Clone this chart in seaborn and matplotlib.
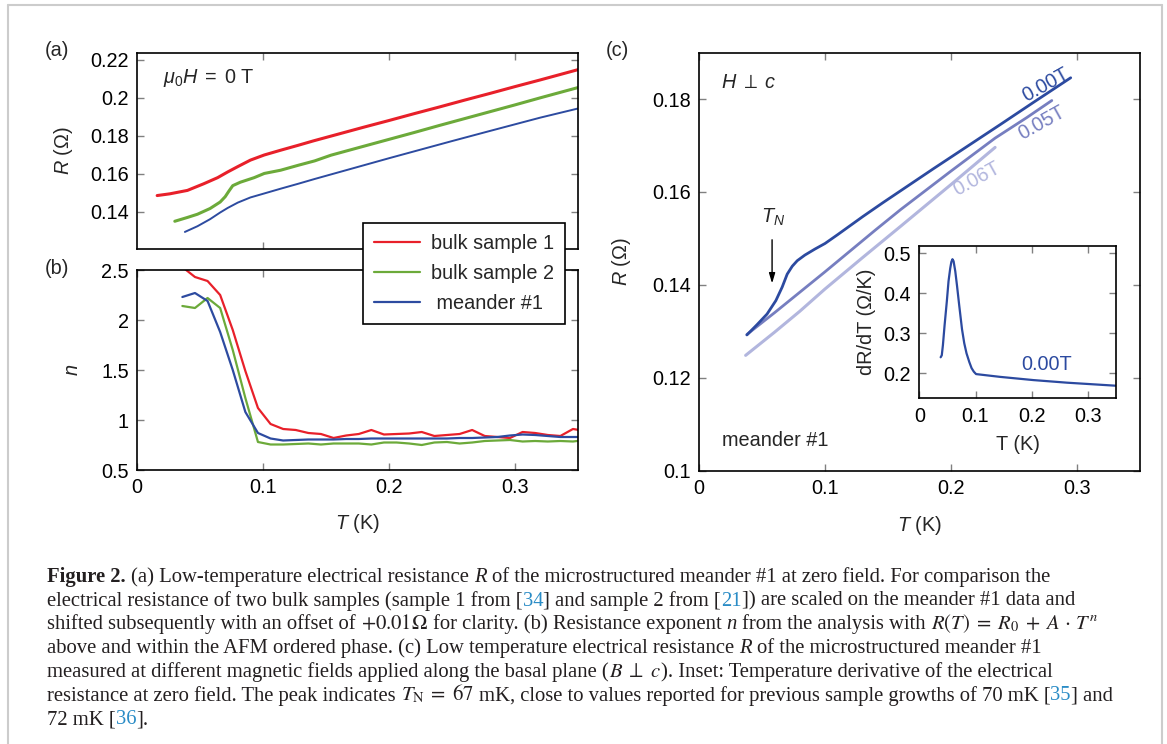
import numpy as np
import pandas as pd
import matplotlib
matplotlib.use("Agg")
import matplotlib.pyplot as plt
import seaborn as sns
from matplotlib.ticker import FuncFormatter, FixedLocator
from matplotlib.lines import Line2D

# ---------------- data ----------------
# (a) resistance at zero field
T_bulk1 = [0.016, 0.026, 0.040, 0.053, 0.064, 0.072, 0.080, 0.090, 0.101, 0.114, 0.128, 0.140,
           0.160, 0.180, 0.200, 0.220, 0.240, 0.260, 0.280, 0.300, 0.320, 0.340, 0.350]
R_bulk1 = [0.1486, 0.1495, 0.1513, 0.1548, 0.1580, 0.1610, 0.1638, 0.1672, 0.1699, 0.1724, 0.1750, 0.1773,
           0.1809, 0.1845, 0.1880, 0.1916, 0.1951, 0.1987, 0.2022, 0.2058, 0.2093, 0.2129, 0.2147]
T_bulk2 = [0.030, 0.040, 0.048, 0.058, 0.066, 0.070, 0.073, 0.076, 0.082, 0.093, 0.101, 0.114, 0.128,
           0.141, 0.154, 0.180, 0.200, 0.220, 0.240, 0.260, 0.280, 0.300, 0.320, 0.340, 0.350]
R_bulk2 = [0.1351, 0.1371, 0.1388, 0.1418, 0.1452, 0.1480, 0.1510, 0.1538, 0.1556, 0.1580, 0.1602, 0.1619, 0.1645,
           0.1668, 0.1698, 0.1745, 0.1781, 0.1817, 0.1854, 0.1890, 0.1926, 0.1962, 0.1999, 0.2035, 0.2053]
T_mean = [0.038, 0.048, 0.058, 0.066, 0.072, 0.080, 0.090, 0.101, 0.114, 0.128, 0.141, 0.154,
          0.180, 0.200, 0.220, 0.250, 0.280, 0.300, 0.320, 0.350]
R_mean = [0.1295, 0.1325, 0.1362, 0.1397, 0.1421, 0.1449, 0.1476, 0.1497, 0.1522, 0.1548, 0.1573, 0.1597,
          0.1645, 0.1682, 0.1718, 0.1772, 0.1825, 0.1860, 0.1895, 0.1943]

# (b) resistance exponent n
T_n = [0.036, 0.046, 0.056, 0.066, 0.076, 0.086, 0.096, 0.106, 0.116, 0.126, 0.136, 0.146, 0.156,
       0.166, 0.176, 0.186, 0.196, 0.206, 0.216, 0.226, 0.236, 0.246, 0.256, 0.266, 0.276, 0.286,
       0.296, 0.306, 0.316, 0.326, 0.336, 0.346, 0.356]
n_bulk1 = [2.53, 2.43, 2.39, 2.25, 1.90, 1.49, 1.12, 0.96, 0.91, 0.90, 0.87, 0.86, 0.82,
           0.845, 0.86, 0.90, 0.855, 0.86, 0.865, 0.88, 0.84, 0.85, 0.86, 0.90, 0.84, 0.83,
           0.82, 0.88, 0.87, 0.85, 0.84, 0.91, 0.89]
n_bulk2 = [2.14, 2.12, 2.22, 2.12, 1.70, 1.22, 0.78, 0.755, 0.755, 0.76, 0.765, 0.755, 0.765,
           0.765, 0.765, 0.755, 0.775, 0.775, 0.765, 0.75, 0.775, 0.78, 0.765, 0.775, 0.79, 0.795,
           0.80, 0.785, 0.79, 0.785, 0.79, 0.785, 0.80]
n_mean = [2.23, 2.27, 2.19, 1.88, 1.50, 1.08, 0.87, 0.815, 0.795, 0.80, 0.805, 0.805, 0.805,
          0.81, 0.81, 0.815, 0.815, 0.815, 0.815, 0.815, 0.815, 0.815, 0.82, 0.82, 0.825, 0.83,
          0.845, 0.855, 0.85, 0.84, 0.83, 0.83, 0.83]

# (c) meander #1 at different fields
T_c00 = [0.038, 0.046, 0.054, 0.061, 0.066, 0.070, 0.074, 0.078, 0.084, 0.092, 0.100, 0.110,
         0.130, 0.146, 0.186, 0.239, 0.266, 0.295]
R_c00 = [0.1292, 0.1314, 0.1337, 0.1366, 0.1395, 0.1423, 0.1440, 0.1452, 0.1464, 0.1477, 0.1489, 0.1508,
         0.1547, 0.1577, 0.1650, 0.1745, 0.1794, 0.1846]
T_c05 = [0.038, 0.060, 0.080, 0.100, 0.120, 0.140, 0.160, 0.200, 0.235, 0.260, 0.280]
R_c05 = [0.1293, 0.1340, 0.1384, 0.1428, 0.1473, 0.1518, 0.1562, 0.1645, 0.1716, 0.1760, 0.1797]
T_c06 = [0.037, 0.060, 0.080, 0.100, 0.130, 0.160, 0.200, 0.235]
R_c06 = [0.1248, 0.1298, 0.1343, 0.1391, 0.1459, 0.1526, 0.1616, 0.1696]

# inset: dR/dT at zero field
T_ins = [0.038, 0.040, 0.042, 0.045, 0.049, 0.052, 0.055, 0.057, 0.059, 0.061, 0.064, 0.067,
         0.071, 0.076, 0.080, 0.084, 0.089, 0.093, 0.097, 0.101, 0.144, 0.203, 0.263, 0.349]
dRdT = [0.240, 0.245, 0.270, 0.320, 0.380, 0.430, 0.462, 0.478, 0.485, 0.480, 0.455, 0.420,
        0.370, 0.310, 0.275, 0.250, 0.228, 0.213, 0.204, 0.198, 0.191, 0.183, 0.1765, 0.169]

series_labels = ["bulk sample 1", "bulk sample 2", " meander #1"]
field_labels = ["0.00T", "0.05T", "0.06T"]

# ---------------- style ----------------
sns.set_style("ticks")
plt.rcParams.update({
    "font.family": ["Liberation Sans", "DejaVu Sans"],
    "mathtext.fontset": "custom",
    "mathtext.rm": "Liberation Sans",
    "mathtext.it": "Liberation Sans:italic",
    "mathtext.bf": "Liberation Sans:bold",
    "mathtext.sf": "Liberation Sans",
    "mathtext.fallback": "stixsans",
    "axes.linewidth": 1.2,
    "axes.edgecolor": "black",
})

RED = "#e8202a"
GREEN = "#6caa3a"
BLUE = "#2d4ba0"
C00 = "#2c4aa0"
C05 = "#767ec0"
C06 = "#b2b6de"
TICKC = "#808080"
FS = 14.3

W, H = 1167, 744
fig = plt.figure(figsize=(W / 100, H / 100), dpi=100)
fig.patch.set_facecolor("white")


def box(l, t, r, b):
    return [l / W, 1 - b / H, (r - l) / W, (b - t) / H]


ax_a = fig.add_axes(box(137, 52.7, 578, 248.5))
ax_b = fig.add_axes(box(137, 270, 578, 470))
ax_c = fig.add_axes(box(699, 52.7, 1140, 470.5))
ax_in = fig.add_axes(box(919.3, 246, 1116, 398.3))

fmt = FuncFormatter(lambda v, p: f"{v:g}")


def style(ax, xt, yt, xlim, ylim, labelbottom=True, size=FS):
    ax.set_xlim(xlim)
    ax.set_ylim(ylim)
    ax.xaxis.set_major_locator(FixedLocator(xt))
    ax.yaxis.set_major_locator(FixedLocator(yt))
    ax.xaxis.set_major_formatter(fmt)
    ax.yaxis.set_major_formatter(fmt)
    ax.tick_params(which="major", direction="in", length=5, width=1, color=TICKC,
                   labelcolor="black", labelsize=size, top=True, right=True, pad=6)
    ax.tick_params(labelbottom=labelbottom)
    for s in ax.spines.values():
        s.set_visible(True)
        s.set_linewidth(1.2)
        s.set_color("black")
    ax.grid(False)
    ax.set_facecolor("white")


# ---- (a)
sns.lineplot(x=T_bulk1, y=R_bulk1, ax=ax_a, color=RED, lw=2.2, sort=False, estimator=None)
sns.lineplot(x=T_bulk2, y=R_bulk2, ax=ax_a, color=GREEN, lw=2.2, sort=False, estimator=None)
sns.lineplot(x=T_mean, y=R_mean, ax=ax_a, color=BLUE, lw=1.4, sort=False, estimator=None)
style(ax_a, [0.1, 0.2, 0.3], [0.14, 0.16, 0.18, 0.20, 0.22], (0, 0.35), (0.1208, 0.2236),
      labelbottom=False)
ax_a.set_ylabel(r"$R$ ($\Omega$)", fontsize=FS)
ax_a.yaxis.set_label_coords(-0.14, 0.5)
ax_a.set_xlabel("")
ax_a.text(0.059, 0.872, r"$\mu_0H\;=\;0\;\mathrm{T}$", transform=ax_a.transAxes,
          fontsize=FS, ha="left", va="center")

# ---- (b)
sns.lineplot(x=T_n, y=n_bulk1, ax=ax_b, color=RED, lw=1.6, sort=False, estimator=None)
sns.lineplot(x=T_n, y=n_bulk2, ax=ax_b, color=GREEN, lw=1.6, sort=False, estimator=None)
sns.lineplot(x=T_n, y=n_mean, ax=ax_b, color=BLUE, lw=1.6, sort=False, estimator=None)
style(ax_b, [0, 0.1, 0.2, 0.3], [0.5, 1, 1.5, 2, 2.5], (0, 0.35), (0.5, 2.5))
ax_b.set_ylabel(r"$n$", fontsize=FS)
ax_b.yaxis.set_label_coords(-0.124, 0.5)
ax_b.set_xlabel(r"$T$ (K)", fontsize=FS)
ax_b.xaxis.set_label_coords(0.5, -0.21)

handles = [Line2D([], [], color=c, lw=1.6) for c in (RED, GREEN, BLUE)]
leg = fig.legend(handles, series_labels, loc="upper left",
                 bbox_to_anchor=(363 / W, 1 - 223 / H), frameon=True, fancybox=False,
                 edgecolor="black", framealpha=1, fontsize=FS, handlelength=2.3,
                 handletextpad=0.55, borderpad=0.55, labelspacing=0.55, borderaxespad=0)
leg.get_frame().set_linewidth(1.2)

# ---- (c)
sns.lineplot(x=T_c06, y=R_c06, ax=ax_c, color=C06, lw=2.2, sort=False, estimator=None)
sns.lineplot(x=T_c05, y=R_c05, ax=ax_c, color=C05, lw=2.0, sort=False, estimator=None)
sns.lineplot(x=T_c00, y=R_c00, ax=ax_c, color=C00, lw=2.0, sort=False, estimator=None)
style(ax_c, [0, 0.1, 0.2, 0.3], [0.1, 0.12, 0.14, 0.16, 0.18], (0, 0.35), (0.1, 0.19))
ax_c.set_ylabel(r"$R$ ($\Omega$)", fontsize=FS)
ax_c.yaxis.set_label_coords(-0.15, 0.5)
ax_c.set_xlabel(r"$T$ (K)", fontsize=FS)
ax_c.xaxis.set_label_coords(0.5, -0.104)
ax_c.text(0.05, 0.928, r"$H\;\perp\;c$", transform=ax_c.transAxes, fontsize=FS,
          ha="left", va="center")
ax_c.text(0.052, 0.072, "meander #1", transform=ax_c.transAxes, fontsize=FS,
          ha="left", va="center")
ax_c.text(0.059, 0.1546, r"$T_N$", fontsize=FS, ha="center", va="center")
ax_c.annotate("", xy=(0.058, 0.1403), xytext=(0.058, 0.1497),
              arrowprops=dict(arrowstyle="-|>,head_length=0.6,head_width=0.18",
                              color="black", lw=1.0, shrinkA=0, shrinkB=0))
label_pos = [(0.277, 0.1820, "baseline"), (0.268, 0.1766, "top"), (0.217, 0.1647, "top")]
for lab, col, (tx, ry, va) in zip(field_labels, (C00, C05, C06), label_pos):
    ax_c.text(tx, ry, lab, color=col, fontsize=FS, rotation=29,
              ha="center", va=va, rotation_mode="anchor")

# ---- inset
sns.lineplot(x=T_ins, y=dRdT, ax=ax_in, color=C00, lw=1.6, sort=False, estimator=None)
style(ax_in, [0, 0.1, 0.2, 0.3], [0.2, 0.3, 0.4, 0.5], (0, 0.35), (0.1375, 0.518))
ax_in.set_xlabel("T (K)", fontsize=FS)
ax_in.xaxis.set_label_coords(0.5, -0.24)
ax_in.set_ylabel("dR/dT (\u03a9/K)", fontsize=FS)
ax_in.yaxis.set_label_coords(-0.22, 0.5)
ax_in.text(0.227, 0.223, "0.00T", color=C00, fontsize=FS, ha="center", va="center")

# panel labels
for lab, x, y in (("(a)", 57, 50), ("(b)", 57, 268), ("(c)", 617, 50)):
    fig.text(x / W, 1 - y / H, lab, fontsize=FS, ha="center", va="center")

# frame of the figure box
for xs, ys in (([8, 8], [5, H]), ([8, 1162], [5, 5]), ([1162, 1162], [5, H])):
    fig.add_artist(Line2D([v / W for v in xs], [1 - v / H for v in ys], color="#cccccc", lw=1.5))

# ---------------- caption ----------------
caption = [
    [("Figure 2.", "b"), (" (a) Low-temperature electrical resistance ", "n"), ("R", "i"),
     (" of the microstructured meander #1 at zero field. For comparison the", "n")],
    [("electrical resistance of two bulk samples (sample 1 from [", "n"), ("34", "c"),
     ("] and sample 2 from [", "n"), ("21", "c"), ("]) are scaled on the meander #1 data and", "n")],
    [("shifted subsequently with an offset of ", "n"), (r"$+0.01\Omega$", "m"),
     (" for clarity. (b) Resistance exponent ", "n"), ("n", "i"), (" from the analysis with ", "n"),
     (r"$R(T)\;=\;R_0\;+\;A\,\cdot\,T^n$", "m")],
    [("above and within the AFM ordered phase. (c) Low temperature electrical resistance ", "n"),
     ("R", "i"), (" of the microstructured meander #1", "n")],
    [("measured at different magnetic fields applied along the basal plane (", "n"),
     (r"$B\;\perp\;c$", "m"), ("). Inset: Temperature derivative of the electrical", "n")],
    [("resistance at zero field. The peak indicates ", "n"), (r"$T_{\rm N}\;=\;67$", "m"),
     (" mK, close to values reported for previous sample growths of 70 mK [", "n"), ("35", "c"),
     ("] and", "n")],
    [("72 mK [", "n"), ("36", "c"), ("].", "n")],
]

renderer = fig.canvas.get_renderer()


def props(kind, size):
    p = dict(fontsize=size, family=["Liberation Serif", "DejaVu Serif"], color="#231f20")
    if kind == "b":
        p["fontweight"] = "bold"
    if kind == "i":
        p["fontstyle"] = "italic"
    if kind == "c":
        p["color"] = "#2a8cc6"
    if kind == "m":
        p["math_fontfamily"] = "stix"
    return p


def measure(text, kind, size):
    if kind == "m":
        t = fig.text(0, 0, text, **props(kind, size))
        w = t.get_window_extent(renderer).width
        t.remove()
        return w
    t1 = fig.text(0, 0, "|" + text + "|", **props(kind, size))
    t2 = fig.text(0, 0, "||", **props(kind, size))
    w = t1.get_window_extent(renderer).width - t2.get_window_extent(renderer).width
    t1.remove()
    t2.remove()
    return w


def line_width(segs, size):
    return sum(measure(t, k, size) for t, k in segs)


base = 14.0
target = 1122 - 47
cap_size = base * target / line_width(caption[5], base)

x0 = 47
y0 = 582
dy = 23.7
for i, segs in enumerate(caption):
    x = x0
    yb = y0 + i * dy
    for text, kind in segs:
        core = text.strip(" ")
        lead = len(text) - len(text.lstrip(" "))
        lead_w = measure(" " * lead, "n", cap_size) if lead else 0.0
        fig.text((x + lead_w) / W, 1 - yb / H, core, ha="left", va="baseline",
                 **props(kind, cap_size))
        x += measure(text, kind, cap_size)

fig.savefig("out.png", dpi=100, facecolor="white")
